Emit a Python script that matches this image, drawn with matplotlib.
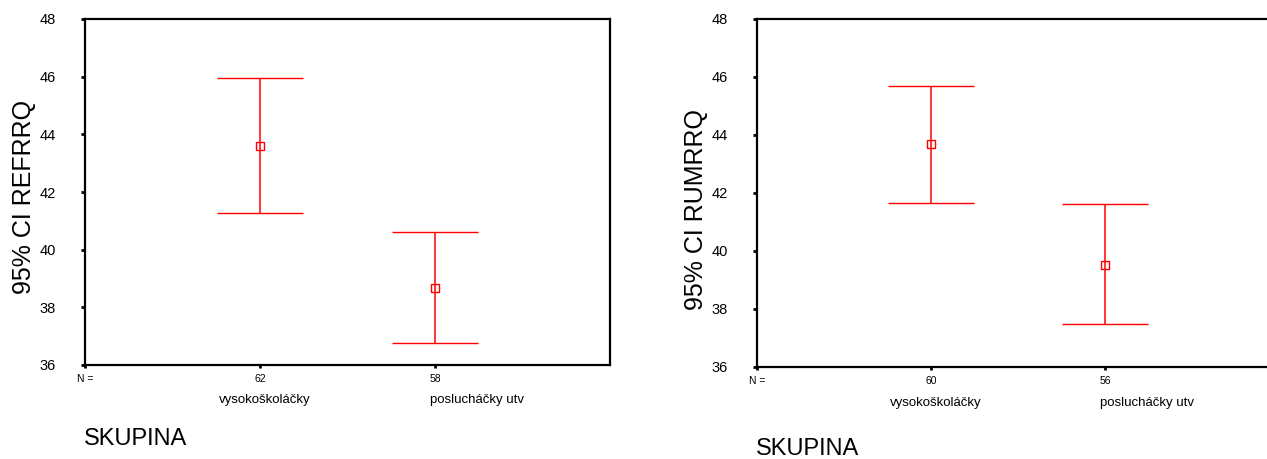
import matplotlib
matplotlib.use("Agg")
import matplotlib.pyplot as plt
import matplotlib.transforms as mtransforms

plt.rcParams['font.family'] = ['Liberation Sans', 'DejaVu Sans']

categories = ["vysokoškoláčky", "poslucháčky utv"]

# Left chart: REFRRQ
left_n = ["62", "58"]
left_mean = [43.59, 38.68]
left_lo = [41.26, 36.75]
left_hi = [45.94, 40.61]

# Right chart: RUMRRQ
right_n = ["60", "56"]
right_mean = [43.68, 39.53]
right_lo = [41.65, 37.48]
right_hi = [45.69, 41.61]

yticks = [36, 38, 40, 42, 44, 46, 48]

W, H = 1267, 459
fig = plt.figure(figsize=(W / 100, H / 100), dpi=100)

RED = "#ff0000"


def draw(ax_px, means, los, his, ns, ylabel, ylab_px, skup_px, cat_y):
    x0, top, w, bottom = ax_px
    ax = fig.add_axes([x0 / W, 1 - bottom / H, w / W, (bottom - top) / H])
    xs = list(range(1, len(means) + 1))
    yerr = [[m - l for m, l in zip(means, los)], [h - m for m, h in zip(means, his)]]
    ax.errorbar(xs, means, yerr=yerr, fmt='s', color=RED, ecolor=RED,
                mfc='none', mec=RED, ms=5.5, mew=1.0, elinewidth=1.1,
                capsize=31, capthick=1.1, zorder=3)
    ax.set_xlim(0, 3)
    ax.set_ylim(36, 48)
    ax.set_yticks(yticks)
    ax.set_yticklabels([str(t) for t in yticks], fontsize=10.5)
    ax.set_xticks([0] + xs)
    ax.set_xticklabels(["N ="] + ns, fontsize=7.5)
    ax.tick_params(axis='y', length=3, width=2, pad=18, direction='out')
    ax.tick_params(axis='x', length=2.5, width=2, pad=4, direction='out')
    for s in ax.spines.values():
        s.set_linewidth(1.6)
        s.set_color('black')
    trans = mtransforms.blended_transform_factory(ax.transData, fig.transFigure)
    offs = [0.03, 0.24]
    for xi, lab, o in zip(xs, categories, offs):
        ax.text(xi + o, 1 - cat_y / H, lab, transform=trans, ha='center',
                va='center', fontsize=9.5)
    fig.text(ylab_px[0] / W, 1 - ylab_px[1] / H, ylabel, rotation=90,
             ha='center', va='center', fontsize=18)
    fig.text(skup_px[0] / W, 1 - skup_px[1] / H, "SKUPINA", ha='left',
             va='center', fontsize=17)
    return ax


draw((85, 19, 525, 365), left_mean, left_lo, left_hi, left_n,
     "95% CI REFRRQ", (24, 197), (84, 439), 400)
draw((757, 19, 522, 367), right_mean, right_lo, right_hi, right_n,
     "95% CI RUMRRQ", (696, 209), (756, 449), 403)

fig.savefig("out.png", dpi=100)
